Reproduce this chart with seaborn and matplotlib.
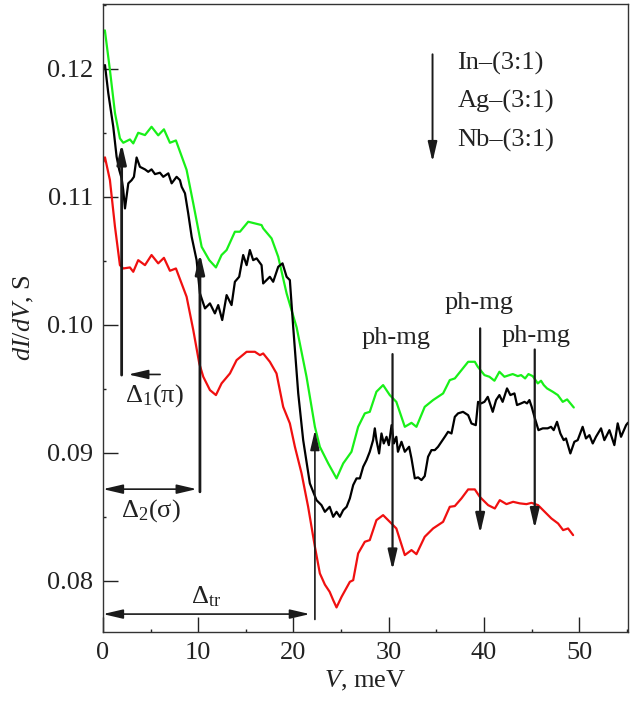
import matplotlib
matplotlib.use("Agg")
import matplotlib.pyplot as plt
import matplotlib.ticker as mticker
import pandas as pd
import seaborn as sns

# Tunneling conductance dI/dV(V) for three samples
IN_V = [0.0, 0.2, 0.73, 1.26, 1.78, 2.13, 2.83, 3.18, 3.7, 4.41, 5.1, 5.8,
        6.4, 7.03, 7.66, 8.78, 9.48, 10.36, 11.16, 11.86, 12.45, 12.98,
        13.85, 14.38, 15.25, 15.95, 16.65, 16.82, 17.7, 18.4, 19.28, 20.33,
        21.37, 22.25, 22.77, 23.65, 24.52, 25.22, 26.09, 26.79, 27.49, 28.01,
        28.71, 29.41, 30.11, 30.8, 31.69, 32.39, 32.91, 33.78, 34.66, 35.71,
        36.41, 36.94, 37.64, 38.34, 39.04, 39.35, 40.05, 40.57, 41.1, 41.62,
        42.15, 42.67, 43.02, 43.55, 43.9, 44.32, 44.67, 45.12, 45.65, 45.99,
        46.28, 46.62, 47.22, 47.75, 48.27, 48.73, 49.43]
IN_G = [0.1228, 0.1230, 0.1199, 0.11654, 0.11456, 0.11422, 0.11448, 0.11417,
        0.1150, 0.11482, 0.11547, 0.1148, 0.11527, 0.11422, 0.1144, 0.1121,
        0.10948, 0.10609, 0.10505, 0.10448, 0.10545, 0.10584, 0.10727,
        0.10727, 0.10805, 0.10792, 0.10779, 0.10753, 0.10675, 0.10531,
        0.10245, 0.0998, 0.09594, 0.09203, 0.09047, 0.08917, 0.0880, 0.08917,
        0.09008, 0.09203, 0.09308, 0.0932, 0.09477, 0.09529, 0.09451, 0.09398,
        0.09203, 0.09234, 0.09203, 0.09359, 0.09412, 0.09464, 0.09568,
        0.09581, 0.09646, 0.09711, 0.09711, 0.09672, 0.09607, 0.09594,
        0.09563, 0.09633, 0.09594, 0.09607, 0.09615, 0.09599, 0.09607,
        0.09581, 0.09615, 0.09599, 0.09542, 0.09563, 0.09529, 0.09503,
        0.09477, 0.09451, 0.09398, 0.09417, 0.09354]

AG_V = [0.0, 0.21, 0.56, 1.08, 1.43, 1.71, 1.96, 2.13, 2.31, 2.66, 3.01, 3.25,
        3.53, 3.88, 4.41, 4.75, 5.1, 5.46, 5.98, 6.33, 6.86, 7.21, 7.73, 8.08,
        8.26, 8.61, 8.95, 9.31, 9.83, 10.18, 10.71, 11.23, 11.75, 12.1, 12.52,
        12.98, 13.5, 13.85, 14.3, 14.72, 15.08, 15.42, 15.77, 16.13, 16.65,
        16.82, 17.52, 17.87, 18.4, 18.85, 19.28, 19.62, 19.97, 20.5, 21.02,
        21.72, 22.42, 22.94, 23.3, 23.8, 24.17, 24.52, 24.87, 25.22, 25.58,
        25.92, 26.27, 26.62, 26.97, 27.32, 27.67, 28.01, 28.36, 28.54, 28.71,
        28.99, 29.24, 29.48, 29.77, 30.01, 30.3, 30.54, 30.8, 30.97, 31.34,
        31.69, 32.14, 32.39, 32.74, 33.08, 33.44, 33.78, 34.13, 34.49, 34.84,
        35.18, 35.54, 35.89, 36.23, 36.59, 36.94, 37.28, 37.8, 38.34, 38.69,
        39.14, 39.38, 39.7, 40.05, 40.4, 40.92, 41.27, 41.62, 41.96, 42.42,
        42.77, 43.2, 43.47, 43.9, 44.25, 44.52, 44.77, 45.01, 45.3, 45.72,
        46.17, 46.69, 47.04, 47.32, 47.67, 48.02, 48.37, 48.61, 49.07, 49.49,
        49.84, 50.36, 50.71, 51.07, 51.42, 51.76, 52.29, 52.64, 53.17, 53.69,
        54.04, 54.39, 54.92, 55.12]
AG_G = [0.1200, 0.12029, 0.11808, 0.11547, 0.11313, 0.11209, 0.11144,
        0.11052, 0.10909, 0.11105, 0.1113, 0.11156, 0.11307, 0.11234,
        0.11214, 0.11195, 0.11214, 0.11177, 0.11188, 0.11156, 0.11183,
        0.11105, 0.11156, 0.1113, 0.11078, 0.11027, 0.1087, 0.10688, 0.10505,
        0.10245, 0.10128, 0.10167, 0.10089, 0.10154, 0.10037, 0.10232,
        0.10154, 0.10336, 0.10375, 0.10545, 0.10466, 0.10584, 0.10505,
        0.10519, 0.10466, 0.10323, 0.10375, 0.10336, 0.10453, 0.1048,
        0.10375, 0.10349, 0.09984, 0.09464, 0.09099, 0.08761, 0.0863, 0.08591,
        0.08539, 0.08578, 0.0850, 0.08539, 0.0850, 0.08552, 0.08578, 0.08644,
        0.08748, 0.0880, 0.0880, 0.08891, 0.08943, 0.09008, 0.09099, 0.09191,
        0.09099, 0.08995, 0.09151, 0.09073, 0.09125, 0.0906, 0.09216, 0.09073,
        0.09125, 0.09008, 0.09086, 0.09008, 0.09047, 0.08956, 0.0880,
        0.08808, 0.08787, 0.08818, 0.08969, 0.09021, 0.09021, 0.09047,
        0.09086, 0.09125, 0.09164, 0.09151, 0.09281, 0.09308, 0.0932,
        0.09294, 0.09229, 0.09216, 0.09398, 0.09386, 0.09398, 0.09437,
        0.0932, 0.09412, 0.09451, 0.09398, 0.09503, 0.09451, 0.09464,
        0.09373, 0.09386, 0.09398, 0.09386, 0.09412, 0.09359, 0.09281,
        0.09177, 0.09191, 0.09191, 0.09203, 0.09177, 0.09242, 0.09151,
        0.09099, 0.09112, 0.08995, 0.09086, 0.09099, 0.09203, 0.09112,
        0.09138, 0.09073, 0.09125, 0.09191, 0.09099, 0.09177, 0.0906, 0.0923,
        0.09125, 0.09216, 0.09235]

NB_V = [0.0, 0.21, 0.73, 1.26, 1.78, 2.13, 2.83, 3.18, 3.7, 4.41, 5.1, 5.8,
        6.4, 7.03, 7.66, 8.78, 9.48, 10.11, 10.53, 11.23, 11.86, 12.45, 13.33,
        14.03, 15.08, 15.95, 16.48, 16.82, 17.52, 18.22, 18.92, 19.62, 20.15,
        20.85, 21.54, 22.25, 22.77, 23.3, 23.8, 24.17, 24.52, 25.05, 25.92,
        26.27, 26.79, 27.49, 28.01, 28.71, 29.41, 30.11, 30.8, 31.69, 32.39,
        32.91, 33.78, 34.66, 35.71, 36.41, 36.94, 37.64, 38.34, 39.04, 39.56,
        40.44, 41.14, 41.66, 42.36, 43.06, 43.76, 44.46, 44.99, 45.68, 46.38,
        47.08, 47.78, 48.31, 48.83, 49.36]
NB_G = [0.11266, 0.11308, 0.1113, 0.10766, 0.10466, 0.1044, 0.10448, 0.10414,
        0.10505, 0.10466, 0.10545, 0.1048, 0.10523, 0.10422, 0.1044, 0.10219,
        0.09959, 0.09698, 0.09594, 0.0949, 0.09451, 0.09542, 0.0962, 0.09724,
        0.09789, 0.09789, 0.09763, 0.09776, 0.09711, 0.0962, 0.09359, 0.0923,
        0.09047, 0.08839, 0.08578, 0.08266, 0.08058, 0.0797, 0.07914, 0.07849,
        0.07792, 0.07875, 0.07992, 0.08005, 0.08214, 0.08305, 0.08318,
        0.08474, 0.08513, 0.08461, 0.08409, 0.08201, 0.0824, 0.08208, 0.08344,
        0.08409, 0.08461, 0.08578, 0.08584, 0.08644, 0.08714, 0.08714,
        0.08656, 0.08591, 0.08565, 0.0863, 0.08599, 0.08617, 0.08605, 0.08599,
        0.08609, 0.08591, 0.08539, 0.08487, 0.08448, 0.08396, 0.08409,
        0.08357]

SAMPLES = ["In–(3:1)", "Ag–(3:1)", "Nb–(3:1)"]
COLORS = {"In–(3:1)": "#18f018", "Ag–(3:1)": "#000000", "Nb–(3:1)": "#f01010"}

# Gap and phonon-magnon features (V positions in meV)
GAP_D1 = 1.96
GAP_D2 = 10.18
GAP_TR = 22.25
PHMG = [30.4, 39.6, 45.33]

ARROW_COLOR = "#1a1a1a"


def arrow(ax, tail, tip, style="-|>", lw=1.6, hw=0.28, hl=1.2):
    """Draw a plain arrow from tail to tip in data coordinates."""
    ax.annotate("", xy=tip, xytext=tail,
                arrowprops={"arrowstyle": f"{style},head_length={hl},head_width={hw}",
                            "lw": lw, "color": ARROW_COLOR,
                            "shrinkA": 0, "shrinkB": 0, "mutation_scale": 10})


def main():
    sns.set_theme(style="ticks")
    plt.rcParams["font.family"] = ["Liberation Serif", "DejaVu Serif"]
    plt.rcParams["mathtext.fontset"] = "custom"
    plt.rcParams["mathtext.rm"] = "Liberation Serif"
    plt.rcParams["mathtext.it"] = "Liberation Serif:italic"

    frames = []
    for name, v, g in zip(SAMPLES, [IN_V, AG_V, NB_V], [IN_G, AG_G, NB_G]):
        frames.append(pd.DataFrame({"V": v, "G": g, "sample": name}))
    df = pd.concat(frames, ignore_index=True)

    fig = plt.figure(figsize=(6.38, 7.02), dpi=100)
    ax = fig.add_axes([0.1614, 0.0997, 0.8229, 0.8946])
    sns.lineplot(data=df, x="V", y="G", hue="sample", palette=COLORS,
                 hue_order=SAMPLES, sort=False, lw=1.6, legend=False, ax=ax)

    ax.set_xlim(0, 55.12)
    ax.set_ylim(0.0760, 0.12506)
    ax.xaxis.set_major_locator(mticker.MultipleLocator(10))
    ax.xaxis.set_minor_locator(mticker.MultipleLocator(5))
    ax.yaxis.set_major_locator(mticker.MultipleLocator(0.01))
    ax.yaxis.set_minor_locator(mticker.MultipleLocator(0.005))
    ax.yaxis.set_major_formatter(mticker.FormatStrFormatter("%.2f"))
    ax.tick_params(which="major", direction="in", length=10.5, width=1.0,
                   labelsize=19, pad=7, colors="#222222")
    ax.tick_params(which="minor", direction="in", length=2.5, width=1.0,
                   colors="#222222")
    for sp in ax.spines.values():
        sp.set_color("#333333")
        sp.set_linewidth(1.0)
    ax.set_xlabel("$V$, meV", fontsize=19, color="#222222", labelpad=4)
    ax.set_ylabel("$dI/dV$, S", fontsize=19, color="#222222", labelpad=8)

    # Gap markers
    arrow(ax, (GAP_D1, 0.09607), (GAP_D1, 0.11417), lw=2.0)
    arrow(ax, (6.0, 0.09612), (2.66, 0.09612), lw=1.2)
    ax.text(5.35, 0.0945, "Δ$_1$(π)", fontsize=19, ha="center", va="center",
            color="#222222")
    arrow(ax, (GAP_D2, 0.08695), (GAP_D2, 0.10558), lw=2.0)
    arrow(ax, (0.0, 0.08716), (9.84, 0.08716), style="<|-|>", lw=1.2)
    ax.text(5.0, 0.08552, "Δ$_2$(σ)", fontsize=19, ha="center", va="center",
            color="#222222")
    arrow(ax, (GAP_TR, 0.07698), (GAP_TR, 0.09177), lw=1.2)
    arrow(ax, (0.0, 0.0774), (21.72, 0.0774), style="<|-|>", lw=1.2)
    ax.text(10.88, 0.07875, "Δ$_{\\rm tr}$", fontsize=19, ha="center",
            va="center", color="#222222")

    # Phonon-magnon features
    phmg_top = [0.09771, 0.09972, 0.09807]
    phmg_bot = [0.08084, 0.0837, 0.08408]
    phmg_txt = [(30.8, 0.0990), (39.5, 0.10167), (45.5, 0.09912)]
    for x, top, bot, (tx, ty) in zip(PHMG, phmg_top, phmg_bot, phmg_txt):
        arrow(ax, (x, top), (x, bot), lw=1.6)
        ax.text(tx, ty, "ph-mg", fontsize=19, ha="center", va="center",
                color="#222222")

    # Sample order key
    arrow(ax, (34.6, 0.12113), (34.6, 0.11273), lw=1.4)
    for name, y in zip(SAMPLES, [0.12043, 0.11742, 0.11443]):
        ax.text(37.2, y, name, fontsize=19, ha="left", va="center",
                color="#222222")

    fig.savefig("out.png", dpi=100)


if __name__ == "__main__":
    main()
